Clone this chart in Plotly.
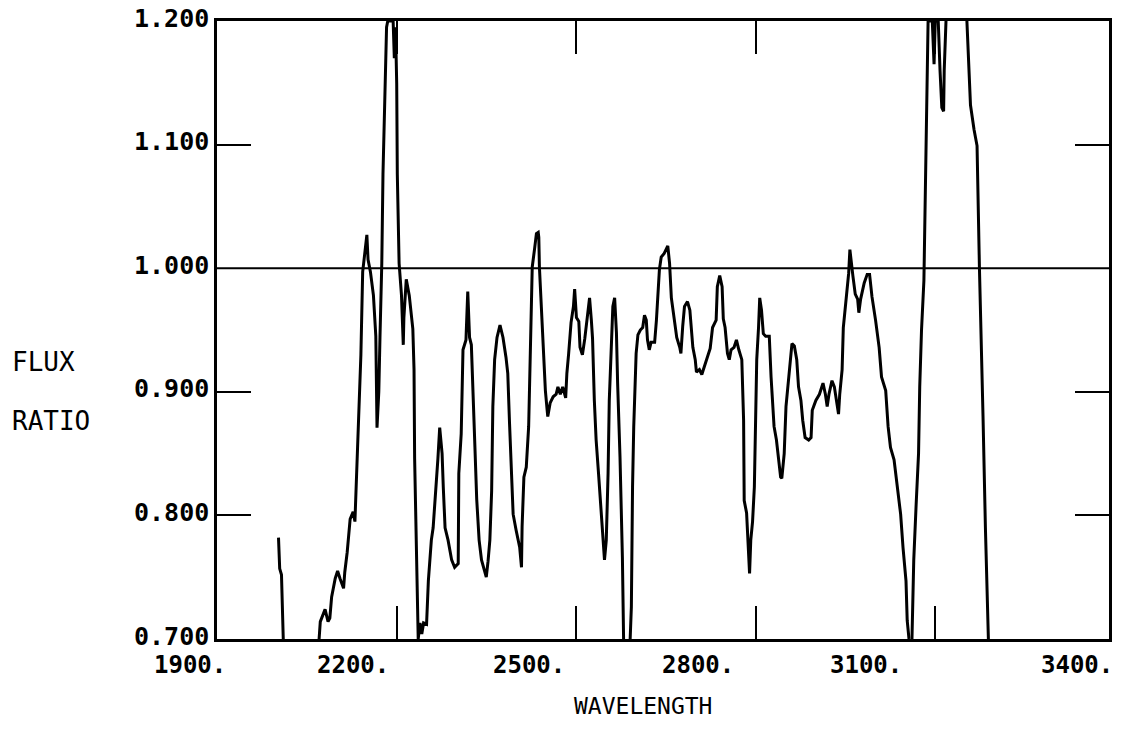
import plotly.graph_objects as go

# Measured flux ratio versus wavelength (Angstrom); None marks off-scale stretches
wavelength = [
    2001, 2003, 2006, 2009, None,
    2069, 2071, 2079, 2084, 2087, 2090, 2096, 2100, 2104, 2110, 2112, 2116, 2121, 2126, 2129,
    2132, 2136, 2139, 2142, 2146, 2149, 2151, 2155, 2160, 2164, 2166, 2169, 2171, 2174, 2176,
    2179, 2182, 2184, 2193, 2195, 2197, 2199, 2200, 2203, 2207, 2210, 2211, 2215, 2220, 2226,
    2228, 2229, 2232, 2235, 2238, 2241, 2244, 2249, 2252, 2257, 2260, 2265, 2268, 2271, 2275,
    2277, 2280, 2285, 2291, 2296, 2302, 2303, 2307, 2310, 2315, 2318, 2321, 2324, 2327, 2330,
    2333, 2337, 2341, 2345, 2349, 2352, 2355, 2358, 2360, 2363, 2367, 2372, 2377, 2382, 2385,
    2388, 2391, 2394, 2399, 2405, 2408, 2409, 2412, 2416, 2420, 2423, 2426, 2430, 2433, 2436,
    2437, 2438, 2441, 2445, 2448, 2451, 2452, 2456, 2461, 2466, 2469, 2473, 2477, 2482, 2484,
    2487, 2491, 2495, 2497, 2500, 2504, 2506, 2510, 2514, 2517, 2522, 2525, 2527, 2530, 2533,
    2537, 2541, 2544, 2547, 2550, 2553, 2555, 2558, 2561, 2564, 2567, 2569, 2573, 2577, 2579,
    None,
    2590, 2592, 2594, 2596, 2600, 2603, 2607, 2611, 2614, 2617, 2619, 2622, 2625, 2631, 2634,
    2636, 2639, 2642, 2647, 2653, 2656, 2659, 2664, 2668, 2673, 2675, 2678, 2681, 2686, 2690,
    2695, 2699, 2701, 2706, 2710, 2714, 2720, 2724, 2728, 2734, 2736, 2740, 2744, 2746, 2749,
    2753, 2756, 2759, 2764, 2768, 2772, 2777, 2780, 2781, 2785, 2787, 2790, 2792, 2795, 2798,
    2800, 2802, 2805, 2807, 2810, 2813, 2817, 2823, 2826, 2829, 2831, 2835, 2839, 2842, 2844,
    2848, 2851, 2854, 2858, 2861, 2865, 2869, 2872, 2876, 2879, 2883, 2889, 2893, 2895, 2901,
    2907, 2913, 2917, 2920, 2923, 2928, 2932, 2936, 2939, 2941, 2945, 2947, 2951, 2956, 2958,
    2961, 2963, 2967, 2971, 2973, 2976, 2982, 2987, 2991, 2995, 3001, 3007, 3011, 3018, 3022,
    3026, 3032, 3038, 3043, 3047, 3052, 3054, 3057,
    None,
    3062, 3063, 3065, 3069, 3073, 3075, 3078, 3082, 3084, 3086, 3088, 3089, 3096, 3099, 3101,
    3106, 3109, 3112, 3115, 3116, 3119,
    None,
    3154, 3157, 3160, 3166, 3171, 3175, 3177, 3181, 3185, 3190,
]

flux = [
    0.782, 0.757, 0.752, 0.700, None,
    0.700, 0.714, 0.724, 0.714, 0.717, 0.734, 0.749, 0.755, 0.749, 0.741, 0.754, 0.770, 0.797, 0.803, 0.795,
    0.836, 0.902, 0.930, 0.997, 1.017, 1.027, 1.007, 0.997, 0.978, 0.945, 0.871, 0.900, 0.945, 1.004, 1.076,
    1.149, 1.195, 1.200, 1.200, 1.170, 1.195, 1.149, 1.076, 1.004, 0.978, 0.938, 0.960, 0.991, 0.978, 0.951,
    0.918, 0.846, 0.780, 0.700, 0.713, 0.704, 0.713, 0.712, 0.747, 0.780, 0.790, 0.823, 0.846, 0.871, 0.850,
    0.823, 0.790, 0.780, 0.764, 0.758, 0.761, 0.834, 0.866, 0.934, 0.942, 0.981, 0.944, 0.938, 0.888, 0.855,
    0.813, 0.780, 0.764, 0.757, 0.750, 0.763, 0.780, 0.820, 0.888, 0.926, 0.944, 0.954, 0.944, 0.928, 0.915,
    0.874, 0.834, 0.801, 0.788, 0.774, 0.758, 0.791, 0.831, 0.839, 0.872, 0.950, 1.001, 1.016, 1.028, 1.029,
    1.025, 1.001, 0.969, 0.934, 0.901, 0.885, 0.880, 0.891, 0.896, 0.898, 0.904, 0.898, 0.904, 0.895, 0.915,
    0.931, 0.956, 0.969, 0.983, 0.960, 0.957, 0.936, 0.930, 0.943, 0.955, 0.976, 0.958, 0.943, 0.893, 0.861,
    0.834, 0.807, 0.780, 0.764, 0.780, 0.834, 0.893, 0.939, 0.969, 0.976, 0.948, 0.907, 0.847, 0.766, 0.700,
    None,
    0.700, 0.726, 0.823, 0.872, 0.931, 0.946, 0.950, 0.952, 0.962, 0.958, 0.942, 0.934, 0.940, 0.940, 0.958,
    0.974, 0.999, 1.009, 1.012, 1.018, 1.004, 0.976, 0.958, 0.944, 0.936, 0.931, 0.953, 0.969, 0.973, 0.966,
    0.936, 0.926, 0.916, 0.918, 0.914, 0.920, 0.928, 0.935, 0.952, 0.958, 0.985, 0.994, 0.985, 0.959, 0.952,
    0.931, 0.926, 0.934, 0.936, 0.942, 0.934, 0.926, 0.877, 0.812, 0.802, 0.780, 0.753, 0.780, 0.795, 0.823,
    0.872, 0.926, 0.952, 0.976, 0.966, 0.947, 0.945, 0.945, 0.912, 0.888, 0.872, 0.861, 0.845, 0.831, 0.830,
    0.850, 0.888, 0.904, 0.926, 0.939, 0.937, 0.926, 0.904, 0.893, 0.877, 0.863, 0.861, 0.863, 0.885, 0.893,
    0.898, 0.907, 0.898, 0.888, 0.898, 0.909, 0.904, 0.893, 0.882, 0.898, 0.918, 0.952, 0.974, 0.996, 1.015,
    0.999, 0.994, 0.979, 0.975, 0.964, 0.975, 0.988, 0.995, 0.995, 0.977, 0.958, 0.936, 0.912, 0.901, 0.872,
    0.855, 0.845, 0.823, 0.801, 0.774, 0.747, 0.715, 0.700,
    None,
    0.700, 0.729, 0.764, 0.809, 0.850, 0.904, 0.950, 0.990, 1.043, 1.109, 1.159, 1.200, 1.200, 1.165, 1.200,
    1.200, 1.160, 1.130, 1.127, 1.160, 1.200,
    None,
    1.200, 1.165, 1.132, 1.112, 1.099, 1.000, 0.964, 0.880, 0.790, 0.700,
]

x_range = [1898, 3392]
x_ticks = [1900, 2200, 2500, 2800, 3100, 3400]
x_tick_text = ["1900.", "2200.", "2500.", "2800.", "3100.", "3400."]
x_label_shift = [-28, -44, -47, -58, -69, -37]
y_range = [0.7, 1.2]
y_ticks = [0.7, 0.8, 0.9, 1.0, 1.1, 1.2]
y_tick_text = ["0.700", "0.800", "0.900", "1.000", "1.100", "1.200"]

FONT = "DejaVu Sans Mono"

fig = go.Figure()
fig.add_trace(go.Scatter(
    x=wavelength, y=flux, mode="lines",
    line=dict(color="black", width=3),
    connectgaps=False, showlegend=False, hoverinfo="skip",
))

# unity reference line across the full width
fig.add_shape(type="line", xref="paper", yref="y", x0=0, x1=1, y0=1.0, y1=1.0,
              line=dict(color="black", width=2))

# x tick labels, set slightly left of their ticks (paper position of each tick value)
span = x_range[1] - x_range[0]
for val, txt, shift in zip(x_ticks, x_tick_text, x_label_shift):
    fig.add_annotation(x=(val - x_range[0]) / span, y=0, xref="paper", yref="paper",
                       text=txt, showarrow=False,
                       xanchor="center", yanchor="middle", xshift=shift, yshift=-26,
                       font=dict(family=FONT, size=24, color="black", weight="bold"))

# y tick labels, right-aligned just left of the frame
for val, txt in zip(y_ticks, y_tick_text):
    fig.add_annotation(x=0, y=val, xref="paper", yref="y", text=txt, showarrow=False,
                       xanchor="right", yanchor="middle", xshift=-6, yshift=3,
                       font=dict(family=FONT, size=25, color="black", weight="bold"))

fig.add_annotation(x=0.478, y=0, xref="paper", yref="paper", text="WAVELENGTH", showarrow=False,
                   xanchor="center", yanchor="middle", yshift=-67,
                   font=dict(family=FONT, size=23, color="black"))
fig.add_annotation(x=0, y=0.9, xref="paper", yref="y", text="FLUX", showarrow=False,
                   xanchor="left", yanchor="middle", xshift=-207, yshift=30,
                   font=dict(family=FONT, size=26, color="black"))
fig.add_annotation(x=0, y=0.9, xref="paper", yref="y", text="RATIO", showarrow=False,
                   xanchor="left", yanchor="middle", xshift=-207, yshift=-29,
                   font=dict(family=FONT, size=26, color="black"))

fig.update_xaxes(range=x_range, tickvals=x_ticks[1:-1], showticklabels=False,
                 ticks="inside", ticklen=33, tickwidth=2, tickcolor="black",
                 showline=True, linecolor="black", linewidth=3, mirror="ticks",
                 showgrid=False, zeroline=False)
fig.update_yaxes(range=y_range, tickvals=[0.8, 0.9, 1.1], showticklabels=False,
                 ticks="inside", ticklen=34, tickwidth=2, tickcolor="black",
                 showline=True, linecolor="black", linewidth=3, mirror="ticks",
                 showgrid=False, zeroline=False)

fig.update_layout(width=1121, height=745, margin=dict(l=217, r=9, t=21, b=106),
                  paper_bgcolor="white", plot_bgcolor="white")

fig.write_html("out.html")
